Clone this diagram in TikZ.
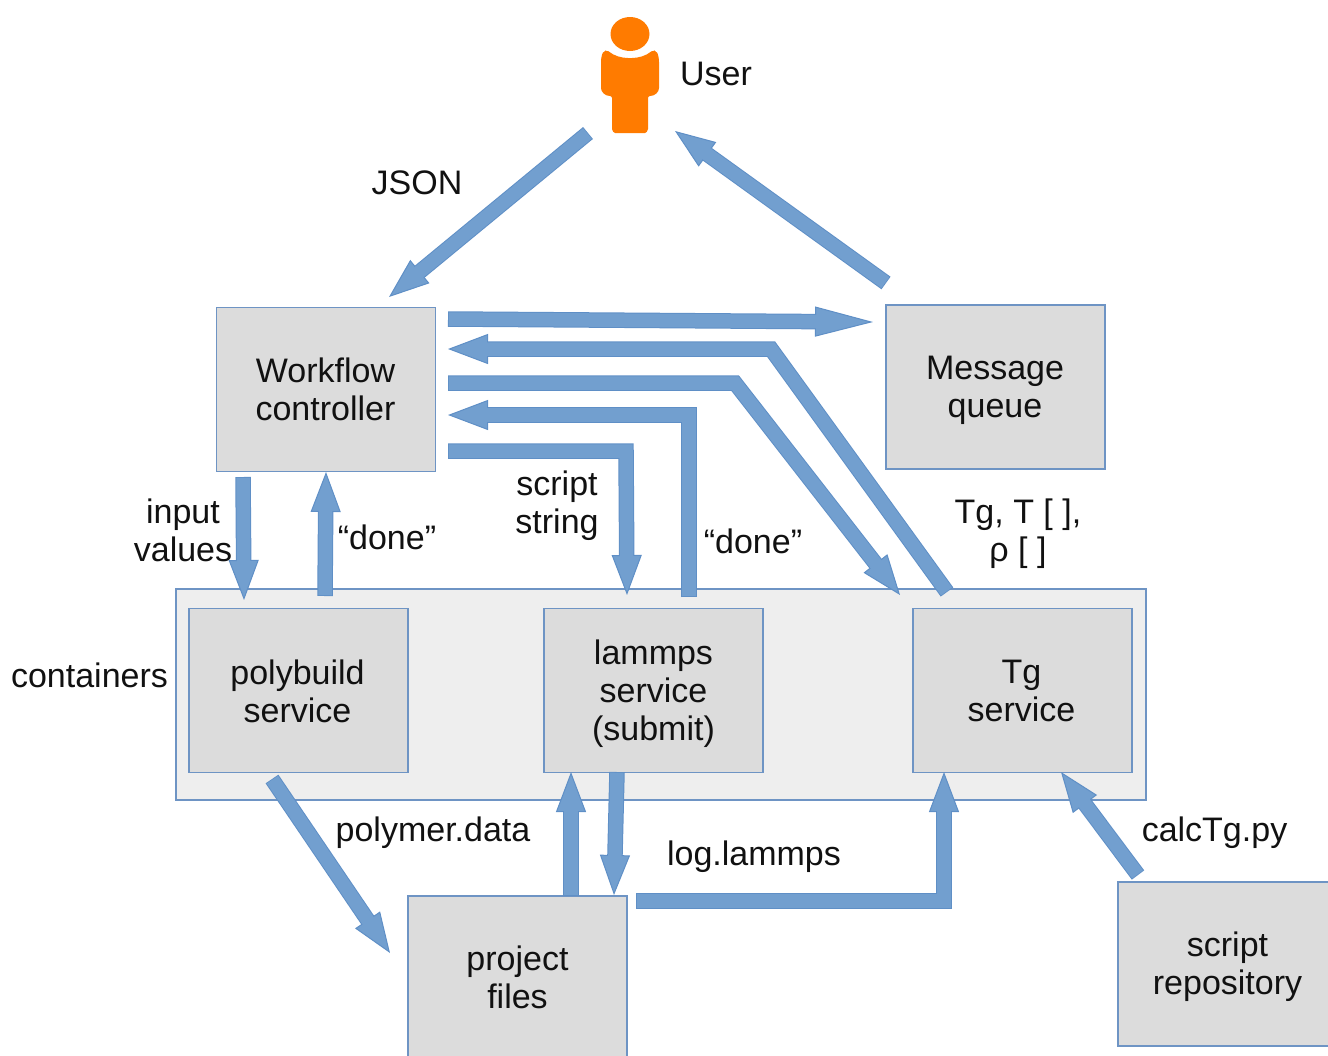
\documentclass[tikz,border=0pt]{standalone}
\usepackage{fontspec}
\setmainfont{Liberation Sans}
\usetikzlibrary{arrows.meta}
\definecolor{edgeblue}{HTML}{5F8FC6}
\definecolor{fillblue}{HTML}{729FCF}
\definecolor{boxgrey}{HTML}{DCDCDC}
\definecolor{contgrey}{HTML}{EEEEEE}
\definecolor{boxedge}{HTML}{6E94C4}
\definecolor{userorange}{HTML}{FF7B00}
\definecolor{ink}{HTML}{111111}
\tikzset{
  x=1pt,y=-1pt,
  every node/.style={font=\fontsize{34}{38}\selectfont,text=ink,inner sep=0pt,outer sep=0pt},
  greybox/.style={draw=boxedge,line width=1.4pt,fill=boxgrey,minimum width=219pt,minimum height=164pt},
  lbl/.style={align=center},
  boxlabel/.style n args={3}{label={[align=center,xshift=#1,yshift=#2]center:#3}},
  blockarrow/.style={
    preaction={draw=edgeblue,line width=15.5pt,shorten >=0pt,shorten <=0pt,
      -{Triangle[length=#1,width=30pt,line width=1pt,color=edgeblue,fill=fillblue]}},
    draw=fillblue,line width=13.5pt,shorten >=#1-8pt,shorten <=0.8pt},
  blockarrow/.default=40pt
}
\begin{document}
\begin{tikzpicture}
\useasboundingbox (0,0) rectangle (1328,1055);
\clip (0,0) rectangle (1328,1055);

% containers band
\node[draw=boxedge,line width=1.4pt,fill=contgrey,minimum width=970pt,minimum height=211pt] (band) at (661,694.5) {};

% boxes
\node[greybox,boxlabel={-0.5pt}{0pt}{Workflow\\controller}] (wc) at (326,389.5) {};
\node[greybox,boxlabel={-0.5pt}{-3pt}{Message\\queue}] (mq) at (995.5,387) {};
\node[greybox,boxlabel={-1pt}{-1pt}{polybuild\\service}] (poly) at (298.5,690.5) {};
\node[greybox,boxlabel={0pt}{-3pt}{lammps\\service\\(submit)}] (lam) at (653.5,690.5) {};
\node[greybox,boxlabel={-1pt}{0pt}{Tg\\service}] (tg) at (1022.5,690.5) {};
\node[greybox,boxlabel={0pt}{1pt}{project\\files}] (proj) at (517.5,978) {};
\node[greybox,boxlabel={0pt}{-3pt}{script\\repository}] (repo) at (1227.5,964) {};

% user icon
\fill[userorange] (630,34) ellipse [x radius=19.5,y radius=17];
\fill[userorange,rounded corners=2pt] (607,50) .. controls (614,56) and (622,58) .. (630,58)
  .. controls (638,58) and (646,56) .. (653,50)
  -- (656,51) .. controls (658,54) and (659,58) .. (659,64) -- (659,86)
  .. controls (659,92) and (655,96) .. (648,96) -- (648,127)
  .. controls (648,131) and (646,133) .. (643,133) -- (617,133)
  .. controls (614,133) and (612,131) .. (612,127) -- (612,96)
  .. controls (605,96) and (601,92) .. (601,86) -- (601,64)
  .. controls (601,58) and (602,54) .. (604,51) -- cycle;

% connector end points
\coordinate (jsonA) at (588,133);   \coordinate (jsonB) at (389,297);
\coordinate (mqoutA) at (886,283);  \coordinate (mqoutB) at (675,131);
\coordinate (wcmqA) at (448,319);   \coordinate (wcmqB) at (873,322);
\coordinate (tgwcA) at (947,592);   \coordinate (tgwcM) at (771,349);  \coordinate (tgwcB) at (448,349);
\coordinate (wctgA) at (448,383);   \coordinate (wctgM) at (735,383);  \coordinate (wctgB) at (900,595);
\coordinate (lamwcA) at (689,597);  \coordinate (lamwcM) at (689,415); \coordinate (lamwcB) at (448,415);
\coordinate (wclamA) at (448,451);  \coordinate (wclamM) at (626,451); \coordinate (wclamB) at (627,595);
\coordinate (wcpolyA) at (243,477); \coordinate (wcpolyB) at (244,600);
\coordinate (polywcA) at (325,596); \coordinate (polywcB) at (326,472);
\coordinate (polyprA) at (272,779); \coordinate (polyprB) at (390,953);
\coordinate (prlamA) at (571,896);  \coordinate (prlamB) at (571,772);
\coordinate (lamprA) at (617,772);  \coordinate (lamprB) at (614,895);
\coordinate (prtgA) at (636,901);   \coordinate (prtgM) at (944,901);  \coordinate (prtgB) at (944,772);
\coordinate (repotgA) at (1138,875);\coordinate (repotgB) at (1061,772);

% connectors
\draw[blockarrow] (jsonA) -- (jsonB);
\draw[blockarrow] (mqoutA) -- (mqoutB);
\draw[blockarrow=58pt] (wcmqA) -- (wcmqB);
\draw[blockarrow] (tgwcA) -- (tgwcM) -- (tgwcB);
\draw[blockarrow] (wctgA) -- (wctgM) -- (wctgB);
\draw[blockarrow] (lamwcA) -- (lamwcM) -- (lamwcB);
\draw[blockarrow] (wclamA) -- (wclamM) -- (wclamB);
\draw[blockarrow] (wcpolyA) -- (wcpolyB);
\draw[blockarrow] (polywcA) -- (polywcB);
\draw[blockarrow] (polyprA) -- (polyprB);
\draw[blockarrow] (prlamA) -- (prlamB);
\draw[blockarrow] (lamprA) -- (lamprB);
\draw[blockarrow] (prtgA) -- (prtgM) -- (prtgB);
\draw[blockarrow] (repotgA) -- (repotgB);

% labels
\node[lbl] (luser) at (716,74) {User};
\node[lbl] (ljson) at (417,183) {JSON};
\node[lbl] (linput) at (183,530) {input\\values};
\node[lbl] (lscript) at (557,506) {script\\string};
\node[lbl] (ldone1) at (387,537) {“done”};
\node[lbl] (ldone2) at (753,541) {“done”};
\node[lbl] (ltg) at (1018,534) {Tg, T [ ],\\ρ [ ]};
\node[lbl] (lcont) at (89.5,675) {containers};
\node[lbl] (lpoly) at (433,833) {polymer.data};
\node[lbl] (llog) at (754,857) {log.lammps};
\node[lbl] (lcalc) at (1214.5,833) {calcTg.py};
\end{tikzpicture}
\end{document}
